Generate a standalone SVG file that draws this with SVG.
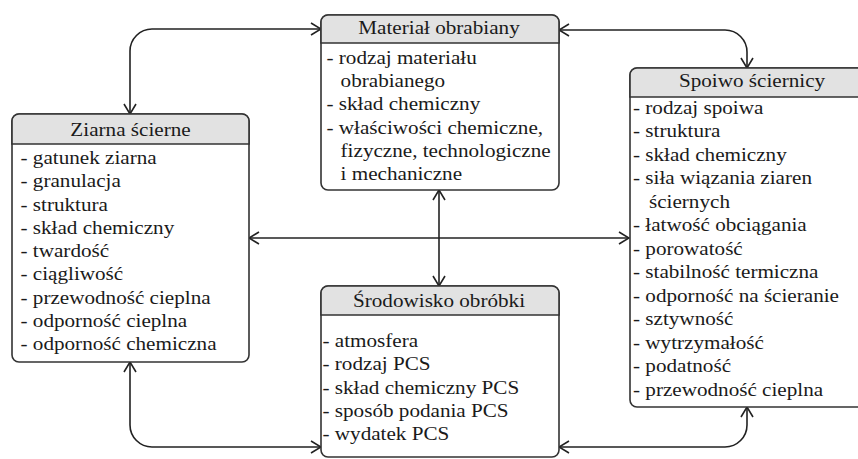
<svg xmlns="http://www.w3.org/2000/svg" width="858" height="459" viewBox="0 0 858 459">
<style>
.box{fill:#fff;stroke:#333;stroke-width:1.6}
.hdr{fill:#e2e2e2;stroke:#333;stroke-width:1.6}
.t{font-family:"Liberation Serif","Times New Roman",serif;font-size:18px;fill:#1a1a1a}
.h{text-anchor:middle}
.c{fill:none;stroke:#222;stroke-width:1.6}
</style>
<defs>
<marker id="ah" viewBox="0 0 12 14" refX="11" refY="7" markerWidth="12" markerHeight="14" markerUnits="userSpaceOnUse" orient="auto-start-reverse">
<path d="M1,1 L11,7 L1,13" fill="none" stroke="#222" stroke-width="1.6"/>
</marker>
</defs>
<rect width="858" height="459" fill="#fff"/>
<g id="connectors">
<path class="c" d="M130,114 V51 A22,22 0 0 1 152,29 H321" marker-start="url(#ah)" marker-end="url(#ah)"/>
<path class="c" d="M559,30 H725 A22,22 0 0 1 747,52 V68" marker-start="url(#ah)" marker-end="url(#ah)"/>
<path class="c" d="M249,238 H629" marker-start="url(#ah)" marker-end="url(#ah)"/>
<path class="c" d="M439,190 V286" marker-start="url(#ah)" marker-end="url(#ah)"/>
<path class="c" d="M130,362 V425 A22,22 0 0 0 152,447 H321" marker-start="url(#ah)" marker-end="url(#ah)"/>
<path class="c" d="M559,447 H725 A22,22 0 0 0 747,425 V407" marker-start="url(#ah)" marker-end="url(#ah)"/>
</g>
<g id="ziarna">
<rect class="box" x="12" y="114" width="237" height="248" rx="7"/>
<path class="hdr" d="M12,144 V121 A7,7 0 0 1 19,114 H242 A7,7 0 0 1 249,121 V144 Z"/>
<text class="t h" transform="matrix(1.175 0 0 1 130.5 0)" x="0" y="136">Ziarna ścierne</text>
<g class="t" transform="matrix(1.175 0 0 1 20.5 0)">
<text x="0" y="164">- gatunek ziarna</text>
<text x="0" y="187.3">- granulacja</text>
<text x="0" y="210.6">- struktura</text>
<text x="0" y="233.9">- skład chemiczny</text>
<text x="0" y="257.2">- twardość</text>
<text x="0" y="280.5">- ciągliwość</text>
<text x="0" y="303.8">- przewodność cieplna</text>
<text x="0" y="327.1">- odporność cieplna</text>
<text x="0" y="350.4">- odporność chemiczna</text>
</g>
</g>
<g id="material">
<rect class="box" x="321" y="15" width="238" height="175" rx="7"/>
<path class="hdr" d="M321,43 V22 A7,7 0 0 1 328,15 H552 A7,7 0 0 1 559,22 V43 Z"/>
<text class="t h" transform="matrix(1.175 0 0 1 439 0)" x="0" y="34">Materiał obrabiany</text>
<g class="t" transform="matrix(1.175 0 0 1 326.5 0)">
<text x="0" y="64">- rodzaj materiału</text>
<text x="12" y="87.2">obrabianego</text>
<text x="0" y="110.4">- skład chemiczny</text>
<text x="0" y="133.6">- właściwości chemiczne,</text>
<text x="12" y="156.8">fizyczne, technologiczne</text>
<text x="12" y="180">i mechaniczne</text>
</g>
</g>
<g id="spoiwo">
<rect class="box" x="630" y="68" width="238" height="339" rx="7"/>
<path class="hdr" d="M630,97 V75 A7,7 0 0 1 637,68 H861 A7,7 0 0 1 868,75 V97 Z"/>
<text class="t h" transform="matrix(1.175 0 0 1 752 0)" x="0" y="87">Spoiwo ściernicy</text>
<g class="t" transform="matrix(1.175 0 0 1 633 0)">
<text x="0" y="114">- rodzaj spoiwa</text>
<text x="0" y="137.5">- struktura</text>
<text x="0" y="161">- skład chemiczny</text>
<text x="0" y="184.5">- siła wiązania ziaren</text>
<text x="13.6" y="208">ściernych</text>
<text x="0" y="231.5">- łatwość obciągania</text>
<text x="0" y="255">- porowatość</text>
<text x="0" y="278.5">- stabilność termiczna</text>
<text x="0" y="302">- odporność na ścieranie</text>
<text x="0" y="325.5">- sztywność</text>
<text x="0" y="349">- wytrzymałość</text>
<text x="0" y="372.5">- podatność</text>
<text x="0" y="396">- przewodność cieplna</text>
</g>
</g>
<g id="srodowisko">
<rect class="box" x="321" y="286" width="238" height="171" rx="7"/>
<path class="hdr" d="M321,315 V293 A7,7 0 0 1 328,286 H552 A7,7 0 0 1 559,293 V315 Z"/>
<text class="t h" transform="matrix(1.175 0 0 1 439 0)" x="0" y="307">Środowisko obróbki</text>
<g class="t" transform="matrix(1.175 0 0 1 322.5 0)">
<text x="0" y="347">- atmosfera</text>
<text x="0" y="370.3">- rodzaj PCS</text>
<text x="0" y="393.6">- skład chemiczny PCS</text>
<text x="0" y="416.9">- sposób podania PCS</text>
<text x="0" y="440.2">- wydatek PCS</text>
</g>
</g>
</svg>
